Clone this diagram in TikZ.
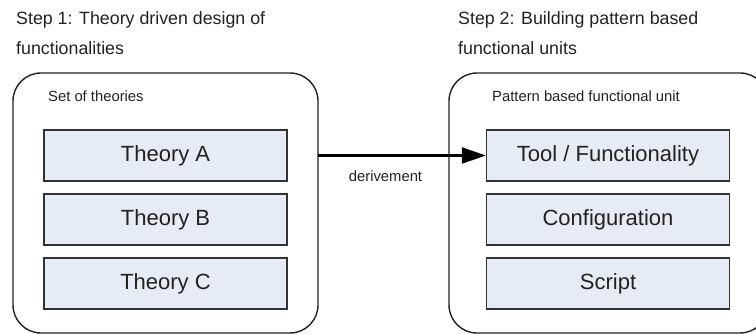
\documentclass[tikz,border=0pt]{standalone}
\usepackage{fontspec}
\setmainfont{Liberation Sans}
\usetikzlibrary{arrows.meta}
\definecolor{ink}{HTML}{222222}
\definecolor{boxfill}{HTML}{E6ECF6}
\definecolor{boxline}{HTML}{333333}
\tikzset{
  outerbox/.style={draw=ink, line width=1.4pt, rounded corners=28pt},
  innerbox/.style={draw=boxline, fill=boxfill, line width=1.3pt, minimum width=243pt, minimum height=51pt, inner sep=0pt, font=\fontsize{22}{24}\selectfont, text=ink},
  steptext/.style={anchor=base west, inner sep=0pt, font=\fontsize{17.8}{20}\selectfont, text=ink},
  smalltext/.style={anchor=base west, inner sep=0pt, font=\fontsize{14.8}{17}\selectfont, text=ink},
  derivearrow/.style={draw=black, line width=2.2pt, -{Triangle[length=24pt,width=16pt]}}
}
\begin{document}
\begin{tikzpicture}[x=1pt,y=-1pt]
\useasboundingbox (0,0) rectangle (756,334);
\clip (0,0) rectangle (756,334);
% step headings
\node[steptext] (s1a) at (16,25) {Step 1: Theory driven design of};
\node[steptext] (s1b) at (16,55) {functionalities};
\node[steptext] (s2a) at (458,25) {Step 2: Building pattern based};
\node[steptext] (s2b) at (458,55) {functional units};
% outer boxes
\draw[outerbox] (13,73) rectangle (318,333);
\draw[outerbox] (449,73) rectangle (768,333);
\coordinate (lr) at (318,155.5);
% labels
\node[smalltext] (lset) at (48,102) {Set of theories};
\node[smalltext] (rset) at (492,102) {Pattern based functional unit};
% inner boxes left
\node[innerbox] (ta) at (165.5,155.5) {Theory A};
\node[innerbox] (tb) at (165.5,219.5) {Theory B};
\node[innerbox] (tc) at (165.5,283.5) {Theory C};
% inner boxes right
\node[innerbox] (tool) at (608,155.5) {Tool / Functionality};
\node[innerbox] (conf) at (608,219.5) {Configuration};
\node[innerbox] (scr) at (608,283.5) {Script};
% arrow
\draw[derivearrow] (lr) -- (tool.west);
\node[smalltext, anchor=base] (der) at (385.5,182) {derivement};
\end{tikzpicture}
\end{document}
